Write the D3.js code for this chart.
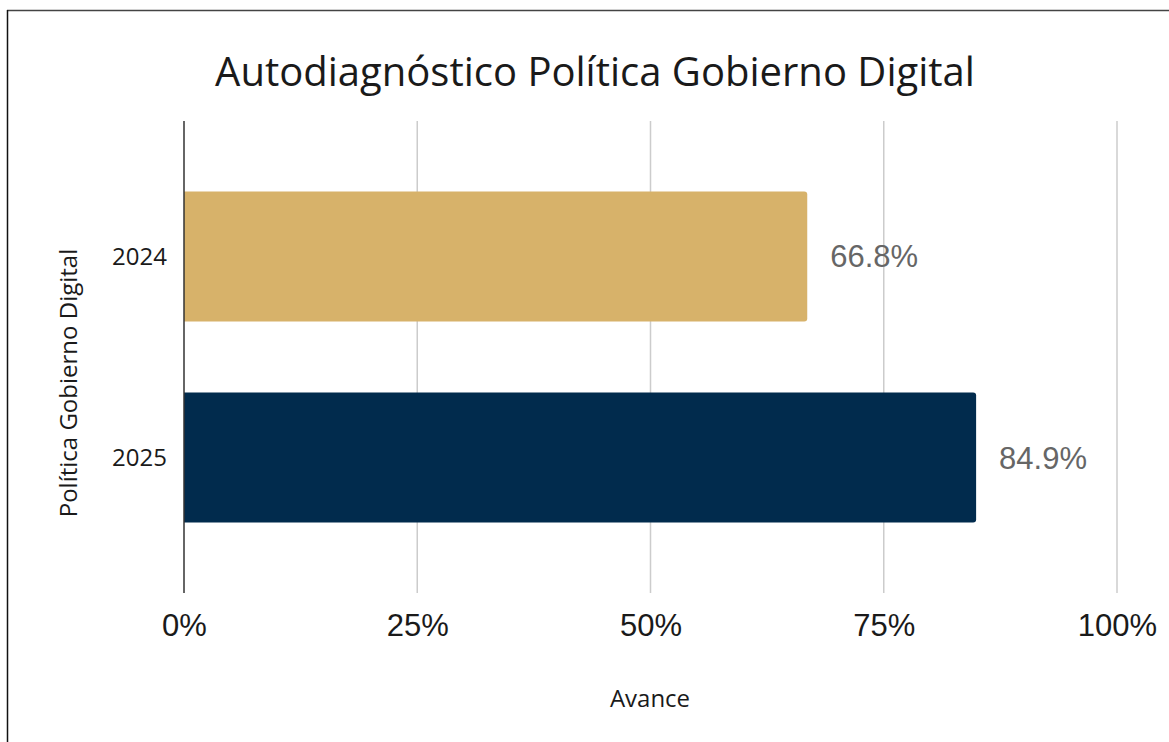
<!DOCTYPE html>
<html>
<head>
<meta charset="utf-8">
<script src="https://cdn.jsdelivr.net/npm/d3@7"></script>
<style>
  html, body { margin: 0; padding: 0; background: #ffffff; }
  svg { display: block; }
</style>
</head>
<body>
<svg id="chart" width="1169" height="742"></svg>
<script>
const categories = ["2024", "2025"];
const values = [0.668, 0.849];
const valueLabels = ["66.8%", "84.9%"];
const barColors = ["#D7B26A", "#012B4D"];
const tickValues = [0, 0.25, 0.5, 0.75, 1];
const tickLabels = ["0%", "25%", "50%", "75%", "100%"];
const titleText = "Autodiagnóstico Política Gobierno Digital";
const xAxisTitle = "Avance";
const yAxisTitle = "Política Gobierno Digital";

const svg = d3.select("#chart");
const W = 1169, H = 742;
const plot = { left: 184, right: 1117, top: 121, bottom: 593 };

// frame (cropped border: top and left)
svg.append("line").attr("x1", 7).attr("x2", W).attr("y1", 10.5).attr("y2", 10.5)
  .attr("stroke", "#444").attr("stroke-width", 1.5);
svg.append("line").attr("x1", 7.5).attr("x2", 7.5).attr("y1", 10).attr("y2", H)
  .attr("stroke", "#111").attr("stroke-width", 1.5);

const x = d3.scaleLinear().domain([0, 1]).range([plot.left, plot.right]);
const y = d3.scaleBand().domain(categories).range([plot.top, plot.bottom])
  .paddingInner(0.353).paddingOuter(0.35);

// gridlines
svg.append("g").selectAll("line").data(tickValues.slice(1)).join("line")
  .attr("x1", d => x(d)).attr("x2", d => x(d))
  .attr("y1", plot.top).attr("y2", plot.bottom)
  .attr("stroke", "#cccccc").attr("stroke-width", 1.5);

// bars with rounded right corners
const r = 3;
svg.append("g").selectAll("path").data(categories).join("path")
  .attr("d", (c, i) => {
    const x0 = x(0), x1 = x(values[i]), y0 = y(c), y1 = y(c) + y.bandwidth();
    return `M${x0},${y0} H${x1 - r} Q${x1},${y0} ${x1},${y0 + r} V${y1 - r} Q${x1},${y1} ${x1 - r},${y1} H${x0} Z`;
  })
  .attr("fill", (c, i) => barColors[i]);

// y axis line
svg.append("line").attr("x1", x(0)).attr("x2", x(0))
  .attr("y1", plot.top).attr("y2", plot.bottom)
  .attr("stroke", "#333").attr("stroke-width", 1.5);

// value labels
svg.append("g").selectAll("text").data(categories).join("text")
  .attr("x", (c, i) => x(values[i]) + 23)
  .attr("y", c => y(c) + y.bandwidth() / 2 + 11)
  .attr("font-family", "'Liberation Sans', Arial, sans-serif")
  .attr("font-size", 31)
  .attr("fill", "#666666")
  .text((c, i) => valueLabels[i]);

// x tick labels via axis
const xAxis = d3.axisBottom(x).tickValues(tickValues)
  .tickFormat((d, i) => tickLabels[i]).tickSize(0).tickPadding(0);
const gx = svg.append("g").attr("transform", `translate(0, ${plot.bottom})`).call(xAxis);
gx.select(".domain").remove();
gx.selectAll("text")
  .attr("y", 43).attr("dy", null)
  .attr("font-family", "'Liberation Sans', Arial, sans-serif")
  .attr("font-size", 31).attr("fill", "#1a1a1a");

// y category labels via axis
const yAxis = d3.axisLeft(y).tickSize(0).tickPadding(0);
const gy = svg.append("g").attr("transform", `translate(${plot.left - 17}, 0)`).call(yAxis);
gy.select(".domain").remove();
gy.selectAll("text")
  .attr("x", 0).attr("dy", "0.35em")
  .attr("font-family", "'Open Sans', sans-serif")
  .attr("font-size", 24).attr("fill", "#1a1a1a");

// title
svg.append("text").attr("x", 595).attr("y", 86)
  .attr("text-anchor", "middle")
  .attr("font-family", "'Open Sans', sans-serif")
  .attr("font-size", 40).attr("fill", "#1a1a1a")
  .text(titleText);

// x axis title
svg.append("text").attr("x", 650).attr("y", 707)
  .attr("text-anchor", "middle")
  .attr("font-family", "'Open Sans', sans-serif")
  .attr("font-size", 24).attr("fill", "#1a1a1a")
  .text(xAxisTitle);

// y axis title
svg.append("text")
  .attr("transform", `translate(77, 383) rotate(-90)`)
  .attr("text-anchor", "middle")
  .attr("font-family", "'Open Sans', sans-serif")
  .attr("font-size", 24).attr("fill", "#1a1a1a")
  .text(yAxisTitle);
</script>
</body>
</html>
